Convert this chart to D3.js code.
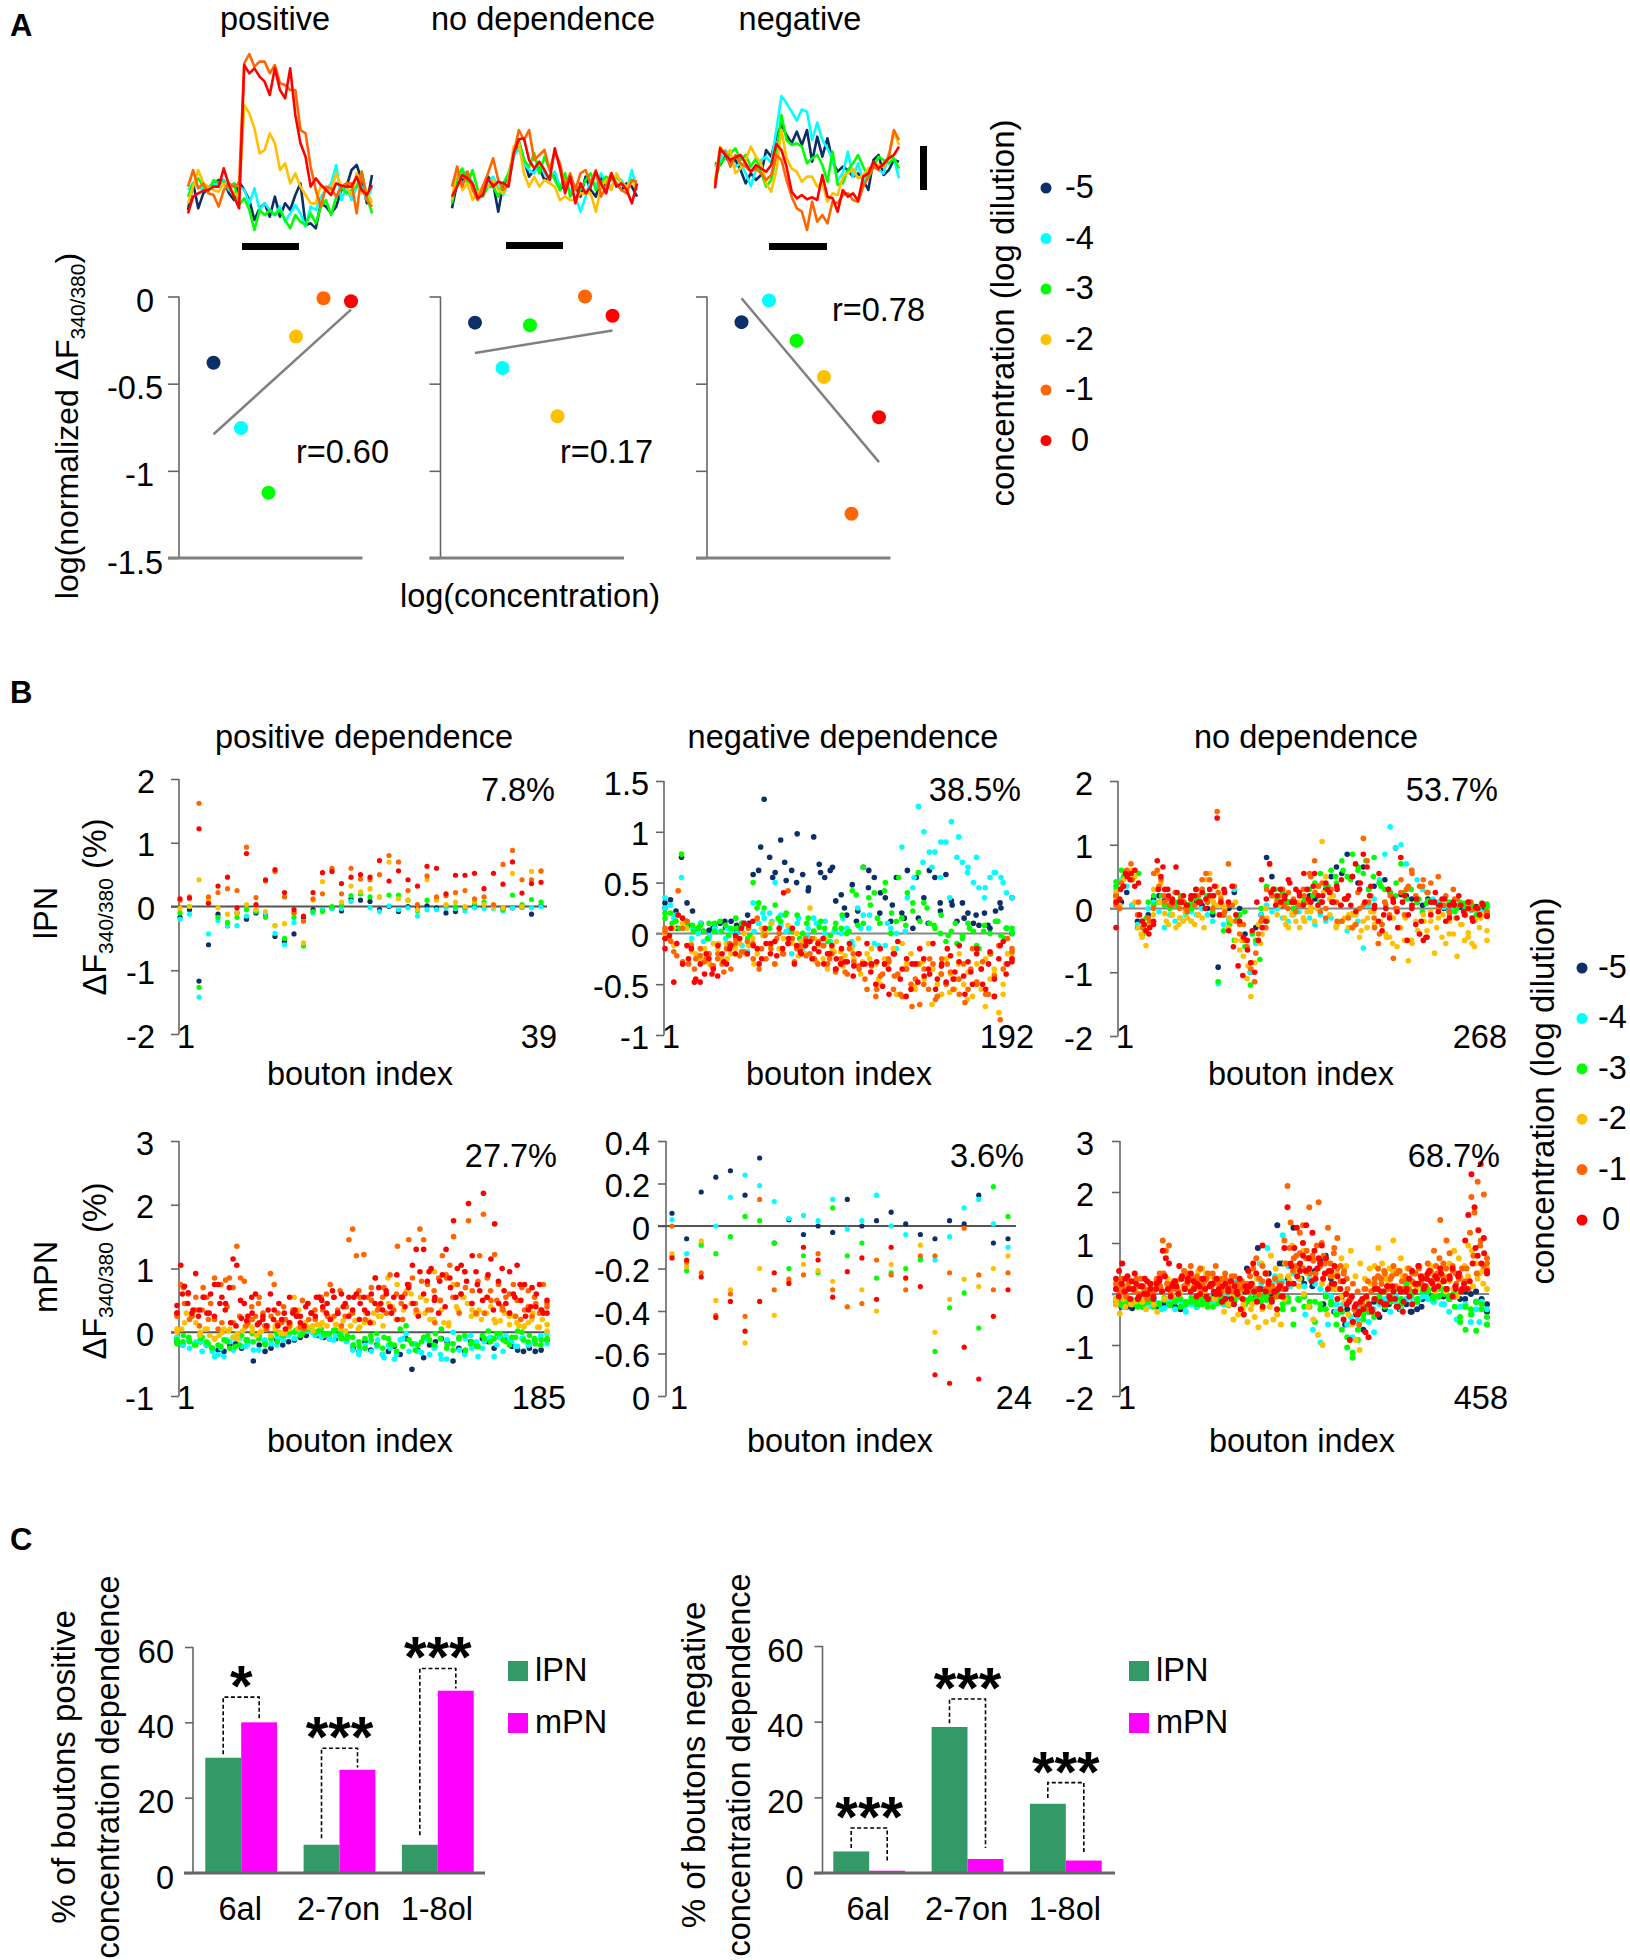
<!DOCTYPE html>
<html lang="en">
<head>
  <meta charset="UTF-8">
  <title>Bouton concentration dependence</title>
  <style>
    html, body { margin: 0; background: #fff; }
    svg { display: block; }
    text { font-family: "Liberation Sans", Arial, sans-serif; fill: #000; }
  </style>
</head>
<body>
  <svg width="1630" height="1960"></svg>
  <script src="https://d3js.org/d3.v7.min.js"></script>
  <script>
    // concentration series, drawn in this order
    const dilutions = [-5, -4, -3, -2, -1, 0];
    const dilutionLabels = ["-5", "-4", "-3", "-2", "-1", "0"];
    const colors = ["#0b2f66", "#00ffff", "#00ff00", "#ffc000", "#ff6600", "#ff0000"];

    // A: traces, read as depth below the top of the trace box
    const tracePosNavy = [510,430,505,460,445,430,420,420,460,480,425,450,480,540,505,490,530,470,530,490,510,465,430,555,550,565,490,500,520,500,450,440,390,375,420,490,405];
    const tracePosCyan = [450,430,440,450,440,430,440,420,450,430,440,450,490,445,510,490,510,525,500,545,520,495,520,560,500,510,470,450,430,375,480,440,480,440,440,480,440];
    const tracePosGreen = [470,430,415,440,455,420,430,425,445,430,495,475,510,570,510,525,510,525,510,540,565,525,545,555,520,550,500,480,525,470,440,460,450,440,395,470,520];
    const tracePosYellow = [490,440,390,430,440,450,455,430,440,460,470,195,220,265,340,330,280,310,390,370,430,400,440,465,490,490,435,445,450,400,440,440,465,400,460,450,490];
    const tracePosOrange = [440,390,445,430,460,465,500,450,430,440,430,70,42,80,65,65,100,75,130,135,150,150,270,280,380,450,500,440,445,470,440,430,430,520,395,480,500];
    const tracePosRed = [520,470,460,452,450,440,440,385,435,470,505,75,100,85,110,125,165,85,150,175,85,225,310,350,440,415,435,450,465,430,437,440,440,410,450,465,435];

    const traceNoneNavy = [505,430,420,410,440,470,440,410,430,515,430,420,350,305,360,410,390,385,420,410,400,450,430,420,440,470,410,450,470,410,440,410,430,450,430,440,470];
    const traceNoneCyan = [430,420,400,395,430,480,440,430,410,440,465,430,350,325,370,390,400,370,400,420,395,440,430,450,470,515,470,420,440,400,430,440,410,420,450,390,450];
    const traceNoneGreen = [490,410,385,430,390,450,470,440,440,470,430,400,340,300,360,380,340,400,350,390,420,450,400,470,440,450,420,400,450,430,410,420,410,430,450,420,440];
    const traceNoneYellow = [480,380,450,430,480,460,440,440,420,450,460,420,320,310,400,440,410,440,420,430,440,480,470,480,480,460,460,460,515,440,420,450,400,430,440,420,450];
    const traceNoneOrange = [440,380,440,395,450,480,440,400,355,420,450,430,340,270,300,270,360,345,330,390,335,370,440,400,450,400,390,430,390,470,440,400,430,450,460,420,425];
    const traceNoneRed = [470,440,405,415,430,475,465,415,440,425,430,440,340,298,295,360,385,365,390,420,325,385,460,410,490,430,460,440,395,430,460,400,440,430,450,490,430];

    const traceNegNavy = [250,255,230,250,240,270,310,280,300,285,210,230,170,135,165,190,155,195,150,245,170,230,175,245,275,260,270,290,280,300,330,240,225,285,270,240,245];
    const traceNegCyan = [260,240,210,230,260,250,280,318,270,240,230,250,150,48,70,95,122,88,95,180,128,180,205,240,300,280,215,290,250,305,280,260,270,280,220,235,295];
    const traceNegGreen = [300,250,235,220,205,240,225,260,235,275,320,300,230,105,180,195,190,200,250,235,225,255,305,215,315,310,270,250,225,260,295,260,230,240,250,235,265];
    const traceNegYellow = [300,200,225,210,280,265,240,200,230,250,310,335,270,150,235,265,275,305,290,290,320,310,365,340,345,290,280,265,295,285,265,260,255,260,230,155,195];
    const traceNegOrange = [310,215,215,260,225,250,260,275,265,280,300,285,225,240,300,350,385,395,450,365,425,405,430,365,370,345,340,360,365,320,290,260,270,250,230,150,180];
    const traceNegRed = [325,205,225,240,232,225,250,275,255,265,275,255,192,210,260,335,355,345,358,352,360,285,350,355,395,330,350,340,362,290,280,245,265,252,235,225,200];

    // A: log response for each dilution, and the ends of the fit
    const scatterPos = [-0.38, -0.755, -1.126, -0.23, -0.01, -0.027];
    const scatterNone = [-0.15, -0.41, -0.165, -0.687, 0, -0.11];
    const scatterNeg = [-0.147, -0.023, -0.254, -0.462, -1.246, -0.693];
    const fitPos = [-0.79, -0.075];
    const fitNone = [-0.324, -0.195];
    const fitNeg = [-0.01, -0.95];
    const scatterTicks = [0, -0.5, -1, -1.5];

    // B: lPN positive, 39 boutons
    const b1Navy = [-.17,-.05,-1.17,-.6,-.12,-.3,-.1,-.2,-.1,-.12,-.47,-.55,-.43,-.17,-.05,-.05,-.03,-.07,.12,.1,.08,-.05,0,-.08,0,-.03,.01,-.02,-.1,-.08,-.02,0,0,0,-.03,-.02,-.01,-.12,.01];
    const b1Cyan = [-.2,-.12,-1.42,-.43,-.22,-.3,-.3,-.15,-.05,-.1,-.42,-.6,-.25,-.6,-.1,-.05,-.03,-.03,.08,.2,-.02,-.08,.01,-.05,-.02,-.15,-.05,-.05,-.02,-.03,-.07,-.02,-.03,-.03,-.07,-.02,-.01,-.02,0];
    const b1Green = [-.1,0,-1.27,.05,-.17,-.25,-.17,-.05,-.08,-.17,-.3,-.5,-.17,-.62,-.08,-.08,0,.02,.17,.2,.15,.15,.18,.18,.1,-.07,.1,.13,.02,0,-.02,.05,.07,0,-.05,.18,.03,.11,.07];
    const b1Yellow = [-.03,0,.42,.1,-.02,-.12,-.1,.03,-.05,-.08,-.3,-.27,-.1,-.57,.1,.39,.57,.07,.32,.23,.28,.15,.7,.12,.1,-.05,.42,.1,.03,.07,0,.08,.03,-.02,-.02,.52,0,.55,.55];
    const b1Orange = [.1,.15,1.62,.15,.22,.28,.25,.93,.14,.4,.55,.15,-.1,-.23,.12,.2,.6,.2,.6,.43,.42,.5,.8,.7,.25,.03,.48,.15,.17,.22,.25,.12,.15,.03,.66,.88,.42,.42,.56];
    const b1Red = [.12,.13,1.22,.05,.32,.46,-.02,.83,.03,.42,.58,.22,-.05,-.15,.22,.53,.55,.36,.46,.5,.46,.72,.4,.56,.42,.32,.63,.6,.2,.49,.49,.52,.28,.52,.35,.7,.21,.36,.38];

    // B: lPN negative, 192 boutons (two readings across the panel for each colour)
    const b2Navy = [.3,.33,.22,.75,.3,.22,.05,.02,.03,.06,.1,.06,.12,.08,.1,.18,.58,.62,1.32,.75,.6,.92,.52,.62,.98,.58,.42,.95,.68,.55,.62,.32,.38,.18,.48,.22,.65,.62,.55,.2,.35,.12,.55,.2,.62,.05,.15,.35,.62,.55,.22,.58,.32,.12,.3,.2,.1,.08,.2,.05,.22,.25,.05,0];
    const b2Navy2 = [.25,.05,.08,.1,.05,.12,.02,.1,.85,.55,.7,.5,.45,.6,.65,.25,.12,.45,.4,.28,.15,.55,.1,.3,.28,.15,.18,.08,.3,.35];
    const b2Cyan = [.35,.28,.18,.55,.12,.05,0,-.08,-.05,.05,.02,-.05,.02,0,-.12,-.18,.3,.1,.15,.2,.5,.08,.02,-.2,.1,-.15,.05,.15,.1,0,-.08,.02,0,.05,-.12,.25,.18,.05,-.1,.1,-.12,.05,0,.85,.35,.45,1.25,1,.8,.8,.55,.9,1.1,.75,.7,.65,.5,.45,.35,.55,.6,.55,.4,.02];
    const b2Cyan2 = [.25,.15,.05,-.05,.1,-.02,-.1,.05,-.08,.1,.02,.2,.12,.18,.05,.15,-.02,.1,.12,.02,.15,-.08,.05,.18,-.12,.1,-.15,.02,.55,.7,.65,.9,.35,.95,.6,.75,.45,.6,.5,.35];
    const b2Green = [.15,.2,.12,.78,.1,.08,.05,.02,.1,.02,.12,.08,.05,.05,.1,-.05,.5,.3,.25,.05,.28,.12,.2,.02,.18,0,.15,.02,.06,.05,-.02,.1,.05,0,.42,.08,.65,.35,.4,.1,.5,0,.12,.15,.4,.22,.6,.3,.1,.05,0,-.08,.02,-.1,-.02,.1,.02,-.15,.08,0,.12,-.02,.05,0];
    const b2Green2 = [.2,.1,.05,.12,.02,.08,-.05,.1,.02,-.02,.15,.08,-.02,.25,.02,.1,.15,.18,.05,-.05,.1,.02,.12,-.08,.05,.18,.02,.38,.1,.28,.15,.42,.2,.55,.08,.3,.12,.25,.08,.18,-.02,.1,-.05,.05,-.12,.02,-.2,.12,-.05,.05];
    const b2Yellow = [0,-.05,.05,.42,.1,.05,-.1,-.2,-.25,-.15,-.2,-.1,-.15,-.25,-.1,-.2,-.15,-.1,0,-.12,-.05,-.2,.05,0,-.12,-.3,-.15,-.05,.08,-.1,0,-.08,-.2,.25,-.05,-.12,-.25,-.35,-.15,-.08,-.18,-.22,-.1,-.25,-.05,-.28,-.2,-.15,-.3,-.5,-.25,-.35,-.15,-.42,-.1,-.3,-.2,-.55,-.3,-.45,-.1,-.35,-.5,-.6,-.25,-.4,-.55,-.2,-.5,-.38,-.62,-.3,-.55,-.25,-.45,-.4,-.78,-.5,-.2,-.25];
    const b2Yellow2 = [-.05,-.12,-.3,-.18,-.22,-.3,-.1,-.25,-.08,-.2,-.3,-.02,.1,-.15,-.05,-.22,-.1,-.28,-.05,-.18,-.32,-.15,-.4,-.25,-.45,-.3,-.6,-.35,-.52,-.28,-.7,-.4,-.58,-.3,-.65,-.48,-.72,-.35,-.6,-.2];
    const b2Orange = [.05,-.05,-.18,.42,.05,.12,-.12,-.25,-.22,-.28,-.2,-.32,-.25,-.3,-.15,-.35,-.1,-.22,-.18,.05,-.1,.15,-.15,-.25,-.1,-.3,0,-.2,.42,-.05,-.15,-.12,-.05,-.2,-.25,-.08,-.12,-.3,-.2,-.35,-.25,-.38,-.15,-.28,-.32,-.3,-.55,-.32,-.62,-.42,-.3,-.28,-.55,-.4,-.62,-.35,-.5,-.45,-.7,-.35,-.55,-.3,-.62,-.25,-.5,-.38,-.45,-.6,-.3,-.55,-.15,-.48,-.35,-.6,-.2,-.62,-.12,-.35,-.05,-.15];
    const b2Orange2 = [.02,-.08,-.22,-.28,-.3,-.35,-.15,-.25,-.32,-.2,-.38,-.1,-.05,-.18,-.08,-.25,-.35,-.02,-.15,-.05,-.2,-.1,-.28,-.15,-.22,-.05,-.3,-.12,-.25,-.38,-.3,-.4,-.2,-.35,-.45,-.3,-.55,-.4,-.25,-.42,-.6,-.35,-.72,-.3,-.5,-.25,-.65,-.4,-.3,-.55,-.45,-.68,-.35,-.5,-.28,-.6,-.42,-.85,-.3,-.18];
    const b2Red = [-.15,-.02,-.48,.18,.15,-.12,-.15,-.45,-.48,-.4,-.25,-.35,-.42,-.2,-.3,-.12,-.2,-.05,.1,.08,.12,-.15,-.25,-.1,-.2,-.08,.05,.4,-.1,.05,-.12,-.2,-.12,-.08,-.15,-.18,-.05,-.2,-.12,-.25,-.3,-.28,-.1,-.32,-.2,-.3,-.1,-.3,-.5,-.15,-.3,-.6,-.2,-.08,-.35,-.25,-.55,-.3,-.15,-.42,-.35,-.1,-.45,-.3,-.48,-.22,-.38,-.12,-.42,-.28,-.5,-.15,-.35,-.55,-.18,-.45,-.25,-.08,-.3,-.28];
    const b2Red2 = [-.05,.05,-.1,-.3,-.25,-.48,-.3,-.2,-.4,-.12,-.28,-.15,-.02,.05,-.2,-.12,-.3,.05,-.1,-.22,-.15,-.05,-.3,-.18,-.08,-.25,-.1,-.3,-.2,-.35,-.15,-.28,-.42,-.2,-.3,-.38,-.28,-.52,-.35,-.2,-.45,-.62,-.3,-.48,-.25,-.4,-.55,-.32,-.15,-.45,-.28,-.6,-.38,-.2,-.5,-.3,-.62,-.12,-.4,-.25];

    // B: lPN none, 268 boutons
    const b3Navy = [.2,.1,.25,.05,-.2,-.3,-.1,.15,.2,.12,.05,.08,.1,0,.05,.1,.05,0,-.1,-.92,-.1,0,.25,0,-.4,-1,-.3,-.1,.8,.5,.15,.05,.1,0,.05,.1,.2,.15,.1,.3,.5,.65,.55,.85,.5,.4,.65,.3,.35,.4,.45,.25,.95,.22,.2,.15,.1,.05,.15,.1,.05,0,-.05,.05,.02,0,-.02,.03,0,-.05];
    const b3Cyan = [.3,.45,.35,.05,-.25,-.2,0,.1,-.05,-.3,-.1,-.2,-.15,-.1,-.05,-.1,0,-.1,-.2,-1.18,-.25,-.2,.3,-.1,-.6,-1,-.55,-.1,.05,-.05,0,-.15,-.2,-.1,-.05,-.2,-.15,-.25,-.1,-.2,-.15,-.28,-.2,-.35,-.1,-.2,-.62,.05,.15,.45,.85,1.28,.95,1,.7,.6,.45,.3,.25,.15,.1,.02,-.05,.02,.05,0,-.03,-.02,-.05,-.08];
    const b3Green = [.42,.6,.55,.45,-.3,-.4,.1,.2,.1,.05,0,.1,.2,-.05,.08,.15,.3,.1,-.05,-1.15,-.35,-.15,-.5,-.1,-.6,-1.2,-.5,0,.35,.2,.15,.08,.1,0,.05,.15,.3,.4,.55,.35,.6,.4,.75,.5,.85,.6,.55,.3,.8,.4,.3,.25,.2,.7,.15,.05,.1,-.05,.12,.1,0,.05,.08,-.05,.1,.02,.05,-.1,.08,.02];
    const b3Green2 = [.35,.5,.45,.55,-.15,.05,.2,.15,.05,.1,0,.12,.2,.05,-.1,-.25,-.15,-.05,-.4,-.8,-.2,.3,.25,.1,.05,.1,.2,.1,.35,.5,.6,.45,.65,.75,.5,.35,.3,.4,.25,.3,.15,.08,.1,.05,.1,0,.08,.05,.02,.07];
    const b3Yellow = [.25,.05,.45,.55,.6,.5,-.3,-.45,-.58,-.25,-.1,.55,.4,-.08,-.25,-.1,-.3,-.15,-.2,-.15,-.2,-.25,-.1,-.15,.45,.55,.1,.05,.2,0,-.3,-.2,-.5,-.65,-.75,-1.1,-1.38,-.85,-.25,-.4,0,.7,.2,-.1,.1,-.15,-.3,-.08,-.2,-.3,-.15,-.05,.02,-.2,.35,1.05,.5,.15,.2,-.25,.05,-.15,-.3,-.08,-.1,-.45,-.2,-.3,-.05,-.25,-.55,-.25,-.4,-.45,-.15,-.6,-.3,-.5,-.82,-.55,-.2,-.4,-.1,-.35,-.2,-.7,-.15,-.45,-.55,-.2,-.4,-.75,-.25,-.5,-.38,-.55,-.18,-.3,-.1,-.5];
    const b3Yellow2 = [.15,.35,.5,.1,-.4,-.25,.3,.1,-.2,-.1,-.25,-.05,-.2,-.1,-.3,.15,.35,.05,-.15,.1,-.5,-.9,-1.15,-.55,-.15,.3,.05,-.25,-.1,.1,-.2,-.05,0,.25,-.1,-.3,-.2,-.1,-.25,-.35,-.15,-.05,-.2,-.45,-.55,-.3,-.15,-.5,-.35,-.2,-.05,-.3,-.1,-.4,-.15,-.25,-.45,-.6,-.15,-.35];
    const b3Orange = [.2,0,.35,.55,.7,.6,.1,-.2,-.35,-.2,0,.6,.45,.1,.15,.05,.25,0,.1,-.05,.15,.05,.2,.3,.55,.45,.2,1.52,.15,-.05,.7,.05,-.2,-.4,-.25,-.6,-.95,-1.15,-.4,-.15,-.3,.7,.3,.1,.2,.05,.25,.1,-.05,.2,.3,.1,.5,.75,.35,.4,0,.25,.1,-.2,.05,.15,-.15,-.3,-.25,0,1.1,.75,.2,-.3,-.55,-.25,.05,-.1,-.78,0,.25,-.1,.35,.55,.2,.35,.45,.25,.4,.1,.5,.05,.2,-.1,.3,.15,.05,-.05,.1,-.02,0,-.1,.05,-.08];
    const b3Orange2 = [.05,.4,.6,.45,-.1,-.3,-.15,.55,.35,.2,.05,.25,.15,0,.2,.3,.45,.1,0,.25,-.1,.05,.35,-.25,-.5,-.85,-.7,-.2,.3,.2,.1,.3,0,.15,.05,.2,.55,.25,-.05,-.15,.3,.1,-.2,.15,-.3,.25,.05,.1,-.15,-.4,.1,.2,0,.45,.3,.6,.15,.35,.25,.1,0,.05,-.05,.15,.05,-.1,.1,0,.05,-.05];
    const b3Red = [-.3,.15,.35,.5,.55,.6,.4,-.2,-.35,-.3,-.25,.75,.5,.3,.2,.1,.65,.1,.2,.05,.15,.2,.1,.25,.15,.3,.2,1.42,.1,.25,.1,.35,-.1,-.2,-.45,-.5,-.85,-1,-.5,-.3,-.2,.7,.3,.2,.1,.15,.45,.1,.3,.2,.05,.3,.1,.55,.2,.1,.4,.25,.1,.3,.05,.15,.2,.5,-.05,.3,.85,.65,.35,.05,-.2,-.35,0,-.15,.1,-.05,.8,.2,-.1,.05,-.25,-.4,-.5,-.45,-.1,.1,-.05,.15,-.2,.05,.1,-.15,.05,-.1,0,-.15,.02,-.1,.05,-.12];
    const b3Red2 = [.1,.3,.55,.45,.35,-.1,-.25,-.4,-.2,.3,.65,.3,.15,.25,.1,.05,.2,.3,.1,0,.2,.35,-.1,.3,-.35,-.6,-.9,-1.05,-.65,-.35,.1,.45,.15,.25,.05,.3,.2,.4,.1,.25,.55,.15,.35,.05,.2,.3,.1,.35,.45,.15,.05,.7,.4,.1,.2,0,.55,-.1,.3,.15,-.3,.1,-.5,0,.15,-.2,-.45,.1,.25,.05,.15,-.15,.05,.2,-.05,.1,-.2,0,.08,-.12];

    // B: mPN positive, 185 boutons
    const b4Navy = [-.15,-.2,-.12,-.18,-.15,-.2,-.25,-.28,-.3,-.2,-.18,-.25,-.15,-.45,-.2,-.3,-.25,-.12,-.2,-.15,-.12,-.08,-.05,.02,-.05,-.08,-.1,-.1,-.08,-.12,-.25,-.3,-.15,-.28,-.2,-.35,-.3,-.22,-.35,-.1,-.58,-.28,-.4,-.2,-.15,-.1,-.15,-.45,-.25,-.3,-.15,-.2,-.1,-.15,-.25,-.08,-.12,-.22,-.28,-.3,-.25,-.3,-.28,-.12];
    const b4Cyan = [-.1,-.2,-.12,-.18,-.15,-.2,-.3,-.35,-.38,-.15,-.1,-.22,-.2,-.28,-.1,-.15,-.08,-.2,-.1,-.05,-.1,-.03,.02,0,-.02,-.05,-.1,-.05,-.03,-.12,-.2,-.3,-.25,-.15,-.22,-.35,-.2,-.42,-.12,-.02,-.18,-.3,-.1,-.35,-.22,-.42,-.12,0,-.1,-.35,-.05,-.15,-.25,-.1,-.38,-.08,-.05,-.15,-.22,-.1,-.2,-.15,-.1,-.02];
    const b4Cyan2 = [-.08,-.18,-.25,-.15,-.3,-.2,-.38,-.25,-.12,-.28,-.1,-.22,-.15,-.28,-.12,-.18,-.08,-.12,-.02,.03,0,.02,-.05,-.08,-.02,-.12,-.08,-.15,-.28,-.35,-.2,-.3,-.12,-.4,-.25,-.35,-.1,-.3,-.18,-.32,-.12,-.25,-.35,-.42,-.18,-.28,-.1,-.25,-.38,-.15,-.08,-.2,-.3,-.12,-.22,-.1,-.2,-.15,-.05,-.18];
    const b4Green = [-.18,-.15,-.08,-.2,-.1,-.15,-.25,-.2,-.12,-.25,-.22,-.05,-.12,-.15,-.05,-.2,-.1,-.02,-.05,.05,0,-.05,.05,.08,.02,-.03,-.02,.04,-.1,-.05,-.2,-.22,-.1,-.05,-.02,-.25,-.1,-.2,.05,.1,-.18,-.2,-.08,-.12,-.02,.05,-.2,-.28,-.1,-.05,-.18,-.22,-.05,.02,-.1,-.02,-.15,-.08,.02,-.12,-.05,-.18,-.12,-.1];
    const b4Green2 = [-.12,-.05,-.15,-.2,-.08,-.18,-.1,-.22,-.15,-.08,-.2,-.12,-.02,-.1,-.18,-.08,-.15,-.05,0,.03,-.02,.05,0,.06,-.02,.03,-.03,-.1,-.08,-.15,-.25,-.12,-.2,-.08,-.18,-.3,-.22,-.12,-.28,-.15,-.05,-.2,-.1,-.25,-.18,-.08,-.28,-.15,-.22,-.1,-.15,-.02,-.12,-.2,-.08,0,-.15,-.1,-.2,-.12];
    const b4Yellow = [.05,.05,.3,.25,.15,0,.05,-.05,-.1,-.05,.05,.02,-.08,-.1,.02,.25,.08,-.05,.02,.05,-.05,.1,0,-.02,.05,.55,.35,.05,.08,.1,.12,.15,.1,.2,.12,.05,.02,.28,.18,.08,.15,.18,.3,.25,.1,.85,.4,.75,.2,.65,.45,.3,.55,.3,.2,.95,.5,.15,.1,.75,.35,.55,.45,.35,.28,.2,.55,.4,.15,.18,.3,.12,.25,.1,.08,.15,.3,.08,.2,.02];
    const b4Yellow2 = [0,.15,.25,-.05,.05,-.1,0,.05,-.02,.08,.02,0,.1,.05,-.02,.1,.05,.15,.02,.1,.25,.12,.18,.1,.05,.3,.15,.25,.45,.2,.35,.6,.3,.5,.2,.35,.15,.4,.55,.25,.35,.3,.2,.35,.25,.15,.1,.2,.08,.12];
    const b4Orange = [.3,.75,.45,.6,.25,.35,.1,.7,.55,.45,.2,.05,.15,.82,.85,.7,1.35,.85,.8,.15,.4,.25,.55,.3,.05,.92,.75,.3,.15,.2,.1,.35,.25,.08,.05,.45,.3,.2,.55,.35,.6,.75,.25,.35,.1,.25,1.45,1.62,1.2,.55,1.22,.55,.7,.85,.4,.55,.3,.9,.35,1.35,.45,.6,1.45,.85,.35,1.62,1.45,.75,.35,.15,.85,1.2,.9,1.05,1.5,.75,.6,.95,1.75,.65,.3,1.2,1.85,.85,.5,1.22,.75,.4,.55,.3,.75,.5,.2,.35,.65,.25,.45,.3,.75,.4];
    const b4Orange2 = [.25,.7,.2,.55,.35,.2,.85,.75,.4,.15,.25,.1,.2,.45,.1,.25,.15,.4,.15,.3,.5,.2,.35,.55,.25,.55,.65,.4,.3,.65,.2,.5,.35,.7,.4,.6,.2,.75,.45,.8,.35,.65,.5,.85,.55,.3,.7,.45,.8,.3,.65,.5,.35,.6,.25,.7,.4,.55,.35,.45];
    const b4Red = [.42,1.05,.72,.62,.3,.92,.35,.55,.3,.6,.25,.75,.55,.45,.7,1.15,1.05,.5,.45,.25,.55,.6,.15,.25,.1,.6,.35,.1,.2,.05,.15,.3,.25,.15,.1,.45,.3,.25,.55,.4,.3,.2,.55,.3,.6,.45,.55,.35,.6,.45,.55,.3,.6,.45,.7,.35,.6,.4,.55,.2,.55,.4,.7,1.05,1.3,.95,1.3,.8,1,.55,.3,.9,1.3,.85,1.75,1,.6,.95,2.02,1.2,.95,.65,2.18,.55,1.15,1.7,.8,1,.45,.95,.6,1.05,.5,.75,.35,.7,.4,.75,.3,.5];
    const b4Red2 = [.3,.6,.45,.35,.25,.55,.3,.75,.45,.35,.15,.1,.22,.18,.3,.12,.2,.35,.2,.45,.3,.55,.35,.25,.4,.3,.55,.5,.45,.65,.3,.4,.25,.55,.2,.35,.15,.85,.45,.65,.3,.9,.55,.75,.45,.25,.6,.95,.5,.8,.4,.7,.55,1.05,.8,.45,.75,.5,.9,.35,.45,.65,.3,.55,.75,.25,.4,.6,.35,.3];

    // B: mPN negative, 24 boutons
    const b5Navy = [.06,-.06,.16,.23,.26,.145,.32,-.08,.03,-.04,0,-.03,.125,0,.025,.065,.01,-.04,-.06,.025,.01,.145,-.08,-.06];
    const b5Cyan = [.03,-.13,-.08,0,.135,.24,.19,.115,.035,.05,.025,.125,-.015,.025,.145,0,-.04,-.15,-.16,-.05,.085,.125,.01,-.1];
    const b5Green = [-.14,-.21,-.09,-.13,-.05,.045,.025,-.08,-.2,-.14,-.22,.085,-.14,-.08,-.245,-.22,-.2,-.16,-.59,-.385,-.315,-.48,.185,.045];
    const b5Yellow = [-.13,-.19,-.07,-.35,-.3,-.55,-.2,-.42,-.26,-.18,-.21,-.26,-.38,-.3,-.4,-.18,-.245,-.09,-.5,-.345,-.25,-.285,-.2,-.14];
    const b5Orange = [0,-.17,-.22,-.42,-.32,-.425,.125,-.3,-.25,-.23,-.13,-.3,-.38,-.365,-.16,-.23,-.3,-.14,-.14,-.22,-.01,-.23,-.3,-.22];
    const b5Red = [-.15,-.16,-.24,-.43,-.355,-.495,-.355,-.22,-.27,-.1,-.16,-.335,-.215,-.15,-.345,-.1,-.245,-.285,-.7,-.74,-.57,-.72,-.425,-.3];

    // B: mPN none, 458 boutons
    const b6Navy = [-.2,-.25,-.1,-.28,-.15,-.25,-.2,-.1,-.28,-.2,-.15,-.25,-.3,-.2,-.15,-.25,-.1,-.05,-.12,-.1,-.2,-.05,0,.1,.05,-.1,-.05,.1,-.05,0,1.35,.6,.3,1.3,.55,.2,.7,.45,.65,.75,.3,.1,-.05,-.3,-.55,-.4,-.7,-.35,-.15,-.45,-.3,-.15,-.1,-.3,-.2,-.35,-.3,-.1,0,-.05,-.05,0,-.1,-.05,-.1,.05,0,-.15,-.1,-.35];
    const b6Navy2 = [-.18,-.25,-.2,-.15,-.28,-.2,-.25,-.15,-.1,-.05,.05,0,.5,.9,.4,.6,.55,.3,.15,-.2,-.35,-.6,-.4,-.25,-.4,-.2,-.3,-.35,-.25,-.1,-.05,0,-.1,.05,-.2];
    const b6Cyan = [-.15,-.2,-.12,-.2,-.1,-.22,-.25,-.1,-.2,-.28,-.15,-.3,-.15,-.35,-.2,-.25,-.1,-.05,-.15,-.1,-.2,0,-.1,.1,.15,.05,.1,.2,.1,.2,.25,1.15,.55,.4,.3,.15,.3,.2,.1,0,-.05,-.2,-.35,-.6,-.85,-.5,-.3,-.55,-.75,-.2,-.1,-.35,-.15,-.3,-.1,-.2,-.15,-.05,-.1,-.15,-.05,-.2,-.1,-.05,-.25,-.2,-.55,-.3,-.15,-.6];
    const b6Cyan2 = [-.1,-.25,-.15,-.18,-.28,-.12,-.3,-.2,-.1,-.25,-.15,-.05,-.1,-.2,0,.1,.25,.15,.2,.6,.9,.35,.25,.15,-.1,-.4,-.7,-.95,-.6,-.35,-.2,-.45,-.25,-.1,-.3,-.15,-.1,-.05,-.15,-.08,-.1,-.05,-.15,-.2,-.35,-.5,-.25,-.4,-.55,-.3];
    const b6Green = [-.1,-.2,-.15,-.12,-.25,-.2,-.15,-.25,-.18,-.12,-.2,-.15,-.1,-.2,-.15,-.12,-.2,-.25,-.1,-.18,-.15,-.2,-.1,-.05,-.12,-.15,-.1,-.05,-.12,-.1,-.05,-.3,-.15,-.6,-.1,-.25,-.15,-.55,-.2,-.3,-.15,-.6,-.35,-.85,-1.25,-.7,-.5,-.35,-.1,-.15,-.25,-.05,.1,-.2,.2,0,-.15,.15,.05,-.1,-.05,.1,-.05,0,-.55,-.7,-.3,-.72,-.2,-.6];
    const b6Green2 = [-.15,-.22,-.08,-.2,-.12,-.25,-.1,-.18,-.2,-.08,-.22,-.12,-.25,-.15,-.08,-.2,-.1,-.18,-.25,-.12,-.08,-.22,-.15,-.05,-.2,-.08,0,-.15,-.05,-.1,.05,-.2,-.08,-.3,-.12,-.05,-.25,-.15,-.3,-.05,-.2,-.4,-.7,-1.05,-1.15,-.9,-.4,-.2,-.45,-.05,.05,-.15,.1,-.1,.15,.05,-.1,.05,.1,-.05,.1,0,-.1,-.25,-.45,-.25,-.4,-.15,-.3,-.45];
    const b6Yellow = [-.2,-.38,-.1,-.05,-.2,.1,-.05,-.15,-.3,0,-.2,-.35,.1,-.1,.2,-.05,.1,0,.15,.25,.1,.3,.45,.5,.4,.35,.2,.3,.1,.05,.15,-.05,.1,0,-.2,.05,-.3,-.45,-.65,-.3,-.55,-.25,-.5,-.4,-.6,-.1,.35,.95,.55,.3,.85,.4,.7,.3,.5,.2,.65,.15,.35,.1,-.05,-.15,-.4,-.6,-.9,-1.1,-.3,-.1,.2,.55,.9,.6,.3,.5,1.05,.45,.7,.35,.5,.2,.4,.55,.1,.3,.55,.35,.15,.5,.05,.25,.1,-.05,.3,.55,.95,.85,.6,.4,.2,.5];
    const b6Yellow2 = [-.1,.05,-.25,.1,-.15,0,-.1,.1,.05,.2,.05,.3,.15,.25,.35,.2,.3,.1,.2,.05,.15,-.1,0,-.35,-.2,-.5,-.4,-.3,-.55,-.2,.3,.6,.4,.75,.5,.35,.6,.25,.45,.15,0,-.25,-.5,-.8,-1,-.4,.1,.4,.7,.55,.85,.35,.6,.3,.5,.15,.35,.05,.25,.45,.15,.35,.5,.2,.1,.3,.15,.4,.05,.2,.35,.6,.85,.7,.5,.35,.15,.3,.45,.1];
    const b6Orange = [.1,.2,.3,0,.2,.1,.05,.15,.3,.1,-.1,.2,.05,.25,.4,1.05,.85,.95,.2,.1,.05,.3,.15,.4,.55,.3,.35,.5,.2,.3,.15,.4,.55,.25,.3,.4,.25,.05,.35,.2,.15,.1,.2,.35,.5,.7,.3,.55,.4,.15,.05,.3,.1,.2,1.05,2.12,1.4,.7,.55,.8,1.35,.7,1.7,.75,.4,1.8,1,.6,1.3,.35,.9,1.1,.55,.4,.3,-.1,.2,-.35,-.6,-.2,.1,-.3,.05,.2,.35,.3,.45,.15,.3,.55,.4,.45,.1,.3,.5,.25,.4,.55,.2,.35,.6,.45,.85,.4,1.45,.6,1.05,.8,.55,.4,.3,.5,.25,.1,1.9,1.6,2.2,1.05,1.95,.6];
    const b6Orange2 = [.2,.05,.15,-.05,.25,.1,.3,0,.15,.05,.2,.1,.3,.15,.4,.2,.05,.25,.1,.3,.45,.2,.35,.15,.3,.1,.25,.4,.15,.3,.2,.05,.3,.15,.35,.2,.1,.25,.15,.05,.2,.1,0,.25,.1,.05,.15,-.05,.2,.1,.6,.9,.45,.75,1.2,.5,.85,.4,.65,.95,.55,.75,.4,.6,.8,.5,.25,.45,.1,-.1,-.3,.05,-.2,.1,.25,.05,.3,.5,.2,.4,.1,.35,.15,.45,.25,.35,.1,.4,.2,.5,.3,.15,.45,.25,.55,.7,.35,.5,.3,.45,.2,.35,.1,.5,1.2,.75,.4,.95,.55,.7];
    const b6Red = [.1,.45,.6,.3,.1,.25,.4,-.1,.15,0,.25,.1,-.05,.2,.3,.85,.7,.6,.15,.25,0,.3,.1,.25,.4,.1,.2,0,.3,-.05,.15,.2,0,.1,-.15,.2,.05,-.1,.15,0,-.3,-.4,.05,.15,.6,.4,.1,.95,.4,.25,-.15,.05,.1,-.05,.9,1.7,.6,.2,1.3,.45,.75,1.35,.5,1.2,.3,.7,.95,.4,.1,.45,.2,-.1,-.3,-.5,-.2,-.9,-.55,-.2,-.35,-.1,-.75,-.85,-.3,.1,-.4,.05,-.2,.15,-.1,.05,-.25,.1,-.35,.05,.3,.45,.2,.55,.3,.15,.4,.25,.1,.3,.5,.25,.1,.35,-.05,.1,.4,.1,1.05,1.55,2.35,1.7,.75,2.55,1.1,.4];
    const b6Red2 = [.3,-.05,.2,.05,.35,-.1,.1,.2,-.05,.15,.3,0,.2,-.1,.1,.25,.05,.35,.1,-.05,.2,.15,.55,.35,.1,.3,.05,.25,-.05,.15,.3,.1,-.1,.2,.05,.3,0,.15,-.1,.1,.25,-.2,.05,.3,-.1,.15,.45,.2,.05,-.15,.1,-.25,.05,.2,-.1,.05,-.3,.15,-.05,.1,.2,.55,.9,.35,.6,1,.45,.7,.25,.85,.5,.6,.3,.7,.45,.2,.55,.35,.1,.25,0,-.15,-.05,-.25,-.4,-.15,-.3,-.05,-.2,-.35,-.1,.1,-.15,.05,-.2,-.05,.15,-.1,-.25,.05,-.15,.1,-.05,-.2,.05,.2,.35,.1,.3,.45,.2,.35,.15,.4,.25,.1,.3,.5,.15,.35,.05,.2,.1,.25,.6,.9,1.25,.6,.8,.45];

    const b5TickValues = [0.4, 0.2, 0, -0.2, -0.4, -0.6, -0.8];
    const b5TickLabels = ["0.4", "0.2", "0", "-0.2", "-0.4", "-0.6", "0"];

    // C: bars
    const odors = ["6al", "2-7on", "1-8ol"];
    const groups = ["lPN", "mPN"];
    const groupColors = ["#339966", "#ff00ff"];
    const posLpn = [30.6, 7.5, 7.5];
    const posMpn = [40, 27.4, 48.4];
    const negLpn = [5.7, 38.6, 18.3];
    const negMpn = [0.6, 3.7, 3.3];
    const percentTicks = [0, 20, 40, 60];
    const posStars = ["*", "***", "***"];
    const negStars = ["***", "***", "***"];
    // bracket height, left foot, right foot, in percent
    const posBrackets = [[46.7, 31.5, 41], [33.1, 9.2, 28], [54.3, 10, 49]];
    const negBrackets = [[11.9, 6.6, 3], [46, 39.6, 6.6], [23.9, 19.8, 5.3]];

    const svg = d3.select("svg");
    const AXIS = "#666";
    const FS = 32.5;

    function label(x, y, str, opts = {}) {
      return svg.append("text")
        .attr("transform", opts.rotate ? `translate(${x},${y}) rotate(-90)` : `translate(${x},${y})`)
        .attr("text-anchor", opts.anchor || "middle")
        .attr("font-size", opts.size || FS)
        .attr("font-weight", opts.bold ? "bold" : null)
        .text(str);
    }

    // ΔF with the small 340/380 below the line
    function deltaLabel(x, y, before, after) {
      const t = svg.append("text")
        .attr("transform", `translate(${x},${y}) rotate(-90)`)
        .attr("text-anchor", "middle")
        .attr("font-size", FS);
      t.append("tspan").text(before + "ΔF");
      t.append("tspan").attr("font-size", 21).attr("dy", 7).text("340/380");
      t.append("tspan").attr("dy", -7).text(after);
    }

    function leftAxis(x, scale, values, opts) {
      const g = svg.append("g").attr("transform", `translate(${x},0)`)
        .call(d3.axisLeft(scale).tickValues(values).tickSize(opts.tick || 8)
          .tickFormat((d, i) => opts.labels ? opts.labels[i] : String(d)));
      g.selectAll("path, line").attr("stroke", AXIS).attr("stroke-width", 1.6);
      g.select(".domain").attr("d", `M0,${scale.range()[0]}V${scale.range()[1]}`);
      g.selectAll("text")
        .attr("font-family", null).attr("font-size", opts.size || FS)
        .attr("dy", 0).attr("y", opts.dy)
        .attr("x", opts.x || -opts.pad);
      return g;
    }

    // ---------- A ----------
    label(10, 36, "A", { anchor: "start", bold: true, size: 31 });
    label(275, 30, "positive");
    label(543, 30, "no dependence");
    label(800, 30, "negative");

    const tracePanels = [
      { series: [tracePosNavy, tracePosCyan, tracePosGreen, tracePosYellow, tracePosOrange, tracePosRed], x: [188, 372], top: 40, bar: [242, 299], barY: 243 },
      { series: [traceNoneNavy, traceNoneCyan, traceNoneGreen, traceNoneYellow, traceNoneOrange, traceNoneRed], x: [452, 637], top: 40, bar: [506, 563], barY: 242 },
      { series: [traceNegNavy, traceNegCyan, traceNegGreen, traceNegYellow, traceNegOrange, traceNegRed], x: [715, 899], top: 80, bar: [769, 827], barY: 243 }
    ];
    tracePanels.forEach(p => {
      const x = d3.scaleLinear().domain([0, 36]).range(p.x);
      const y = d3.scaleLinear().domain([0, 600]).range([p.top, p.top + 200]);
      const line = d3.line().x((d, i) => x(i)).y(d => y(d));
      p.series.forEach((s, k) => {
        svg.append("path").attr("d", line(s)).attr("fill", "none")
          .attr("stroke", colors[k]).attr("stroke-width", 2.6)
          .attr("stroke-linejoin", "round");
      });
      svg.append("rect").attr("x", p.bar[0]).attr("y", p.barY)
        .attr("width", p.bar[1] - p.bar[0]).attr("height", 7).attr("fill", "#000");
    });
    svg.append("rect").attr("x", 920).attr("y", 146).attr("width", 7).attr("height", 44).attr("fill", "#000");

    const scatterY = d3.scaleLinear().domain([-1.5, 0]).range([558, 296.5]);
    [
      { ax: 179, values: scatterPos, fit: fitPos, r: "r=0.60", rx: 389, ry: 463, labels: true },
      { ax: 440.5, values: scatterNone, fit: fitNone, r: "r=0.17", rx: 653, ry: 463 },
      { ax: 707, values: scatterNeg, fit: fitNeg, r: "r=0.78", rx: 925, ry: 321 }
    ].forEach(p => {
      const x = d3.scaleLinear().domain([-5, 0]).range([p.ax + 34.5, p.ax + 172]);
      const g = leftAxis(p.ax, scatterY, scatterTicks, { tick: 11, dy: 15, pad: 25 });
      if (p.labels) {
        g.selectAll("text").attr("x", d => d % 1 ? -16 : -25);
      } else {
        g.selectAll("text").remove();
      }
      svg.append("line").attr("x1", p.ax - 11).attr("x2", x(0) + 11.5)
        .attr("y1", scatterY(-1.5)).attr("y2", scatterY(-1.5))
        .attr("stroke", "#808080").attr("stroke-width", 3);
      svg.append("line").attr("x1", x(-5)).attr("x2", x(0))
        .attr("y1", scatterY(p.fit[0])).attr("y2", scatterY(p.fit[1]))
        .attr("stroke", "#808080").attr("stroke-width", 2.5);
      svg.selectAll(null).data(p.values).enter().append("circle")
        .attr("cx", (d, i) => x(dilutions[i])).attr("cy", d => scatterY(d))
        .attr("r", 7).attr("fill", (d, i) => colors[i]);
      label(p.rx, p.ry, p.r, { anchor: "end" });
    });

    const aT = svg.append("text").attr("transform", "translate(78,426) rotate(-90)")
      .attr("text-anchor", "middle").attr("font-size", 32);
    aT.append("tspan").text("log(normalized  ΔF");
    aT.append("tspan").attr("font-size", 21).attr("dy", 7).text("340/380");
    aT.append("tspan").attr("dy", -7).text(")");
    label(530, 607, "log(concentration)");
    label(1014, 313, "concentration (log dilution)", { rotate: true, size: 33 });

    function dilutionLegend(dotX, textX, zeroX, ys) {
      dilutionLabels.forEach((t, i) => {
        svg.append("circle").attr("cx", dotX).attr("cy", ys[i]).attr("r", 5.5).attr("fill", colors[i]);
        label(i === 5 ? zeroX : textX, ys[i] + 10, t, { anchor: "start" });
      });
    }
    dilutionLegend(1046, 1065, 1071, d3.range(6).map(i => 188 + i * 50.5));

    // ---------- B ----------
    label(10, 703, "B", { anchor: "start", bold: true, size: 31 });
    label(364, 748, "positive dependence");
    label(843, 748, "negative dependence");
    label(1306, 748, "no dependence");

    const dotPanels = [
      { n: 39, series: [[b1Navy], [b1Cyan], [b1Green], [b1Yellow], [b1Orange], [b1Red]], r: 2.6, ax: 179, x: [180, 541], lineEnd: 547, y: [-2, 2], range: [1034, 779], ticks: [2, 1, 0, -1, -2], pct: "7.8%", pctX: 555, nX: 557, oneX: 177, labelX: 360, pad: 24 },
      { n: 192, series: [[b2Navy, b2Navy2], [b2Cyan, b2Cyan2], [b2Green, b2Green2], [b2Yellow, b2Yellow2], [b2Orange, b2Orange2], [b2Red, b2Red2]], r: 2.8, ax: 664, x: [665, 1012], lineEnd: 1012, y: [-1, 1.5], range: [1035, 781], ticks: [1.5, 1, 0.5, 0, -0.5, -1], pct: "38.5%", pctX: 1021, nX: 1034, oneX: 662, labelX: 839, pad: 15 },
      { n: 268, series: [[b3Navy], [b3Cyan], [b3Green, b3Green2], [b3Yellow, b3Yellow2], [b3Orange, b3Orange2], [b3Red, b3Red2]], r: 2.8, ax: 1118, x: [1116, 1487], lineEnd: 1489, y: [-2, 2], range: [1036, 781], ticks: [2, 1, 0, -1, -2], pct: "53.7%", pctX: 1498, nX: 1507, oneX: 1116, labelX: 1301, pad: 25 },
      { n: 185, series: [[b4Navy], [b4Cyan, b4Cyan2], [b4Green, b4Green2], [b4Yellow, b4Yellow2], [b4Orange, b4Orange2], [b4Red, b4Red2]], r: 2.8, ax: 179, x: [177, 547], lineEnd: 547, y: [-1, 3], range: [1396, 1141], ticks: [3, 2, 1, 0, -1], pct: "27.7%", pctX: 557, nX: 566, oneX: 177, labelX: 360, pad: 25 },
      { n: 24, series: [[b5Navy], [b5Cyan], [b5Green], [b5Yellow], [b5Orange], [b5Red]], r: 2.6, ax: 666, x: [672, 1008], lineEnd: 1016, y: [-0.8, 0.4], range: [1396, 1141], ticks: b5TickValues, tickLabels: b5TickLabels, pct: "3.6%", pctX: 1024, nX: 1032, oneX: 670, labelX: 840, pad: 16 },
      { n: 458, series: [[b6Navy, b6Navy2], [b6Cyan, b6Cyan2], [b6Green, b6Green2], [b6Yellow, b6Yellow2], [b6Orange, b6Orange2], [b6Red, b6Red2]], r: 3, ax: 1120, x: [1116, 1487], lineEnd: 1489, y: [-2, 3], range: [1396, 1141], ticks: [3, 2, 1, 0, -1, -2], pct: "68.7%", pctX: 1500, nX: 1508, oneX: 1118, labelX: 1302, pad: 26 }
    ];
    dotPanels.forEach((p, idx) => {
      const x = d3.scaleLinear().domain([1, p.n]).range(p.x);
      const y = d3.scaleLinear().domain(p.y).range(p.range);
      leftAxis(p.ax, y, p.ticks, { dy: 13, pad: p.pad, labels: p.tickLabels });
      svg.append("line").attr("x1", p.ax - 8).attr("x2", p.lineEnd)
        .attr("y1", y(0)).attr("y2", y(0)).attr("stroke", idx === 0 || idx === 3 || idx === 4 ? "#555" : "#888").attr("stroke-width", 2);
      p.series.forEach((readings, k) => {
        readings.forEach(s => {
          svg.selectAll(null).data(s).enter().append("circle")
            .attr("cx", (d, i) => x(1 + i * (p.n - 1) / (s.length - 1)))
            .attr("cy", d => y(d)).attr("r", p.r).attr("fill", colors[k]);
        });
      });
      const top = idx < 3;
      label(p.pctX, top ? 801 : 1167, p.pct, { anchor: "end" });
      label(p.oneX, top ? 1048 : 1409, "1", { anchor: "start" });
      label(p.nX, top ? 1048 : 1409, String(p.n), { anchor: "end" });
      label(p.labelX, top ? 1085 : 1452, "bouton index");
    });

    label(57, 913, "lPN", { rotate: true });
    label(57, 1277, "mPN", { rotate: true });
    deltaLabel(106, 907, "", "  (%)");
    deltaLabel(106, 1271, "", "  (%)");
    label(1554, 1091, "concentration (log dilution)", { rotate: true, size: 33 });
    dilutionLegend(1582, 1598, 1602, d3.range(6).map(i => 968 + i * 50.4));

    // ---------- C ----------
    label(10, 1550, "C", { anchor: "start", bold: true, size: 31 });
    [
      { ax: 193, x: [194, 485], lpn: posLpn, mpn: posMpn, stars: posStars, brackets: posBrackets, base: [184, 485], top: 1647, legendX: 508, pad: 19, l1x: 75, l2x: 119, l1: "% of boutons positive", cy: 1767 },
      { ax: 822.5, x: [822, 1113], lpn: negLpn, mpn: negMpn, stars: negStars, brackets: negBrackets, base: [814, 1115], top: 1646, legendX: 1129, pad: 19, l1x: 705, l2x: 750, l1: "% of boutons negative", cy: 1765 }
    ].forEach(p => {
      const y = d3.scaleLinear().domain([0, 60]).range([1873, p.top]);
      const x0 = d3.scaleBand().domain(odors).range(p.x).paddingInner(0.27).paddingOuter(0.115);
      const x1 = d3.scaleBand().domain(groups).range([0, x0.bandwidth()]);
      leftAxis(p.ax, y, percentTicks, { dy: 15, pad: p.pad });
      [p.lpn, p.mpn].forEach((vals, g) => {
        svg.selectAll(null).data(vals).enter().append("rect")
          .attr("x", (d, i) => x0(odors[i]) + x1(groups[g]))
          .attr("y", d => y(d)).attr("width", x1.bandwidth())
          .attr("height", d => y(0) - y(d)).attr("fill", groupColors[g]);
      });
      svg.append("line").attr("x1", p.base[0]).attr("x2", p.base[1])
        .attr("y1", y(0)).attr("y2", y(0)).attr("stroke", "#666").attr("stroke-width", 3);
      odors.forEach((o, i) => {
        const c = x0(o) + x0.bandwidth() / 2;
        label(c - 1, 1920, o);
        const [t, l, r] = p.brackets[i];
        svg.append("path").attr("fill", "none").attr("stroke", "#000").attr("stroke-width", 1.6)
          .attr("stroke-dasharray", "4,2.5")
          .attr("d", `M${c - 18},${y(l)}V${y(t)}H${c + 18}V${y(r)}`);
        label(c, y(t) + 9, p.stars[i], { size: 58, bold: true });
      });
      groups.forEach((g, i) => {
        const ly = 1661 + i * 52;
        svg.append("rect").attr("x", p.legendX).attr("y", ly).attr("width", 20).attr("height", 20).attr("fill", groupColors[i]);
        label(p.legendX + 27, ly + 20, g, { anchor: "start" });
      });
      label(p.l1x, p.cy, p.l1, { rotate: true, size: 33 });
      label(p.l2x, p.cy, "concentration dependence", { rotate: true, size: 32.5 });
    });
  </script>
</body>
</html>
